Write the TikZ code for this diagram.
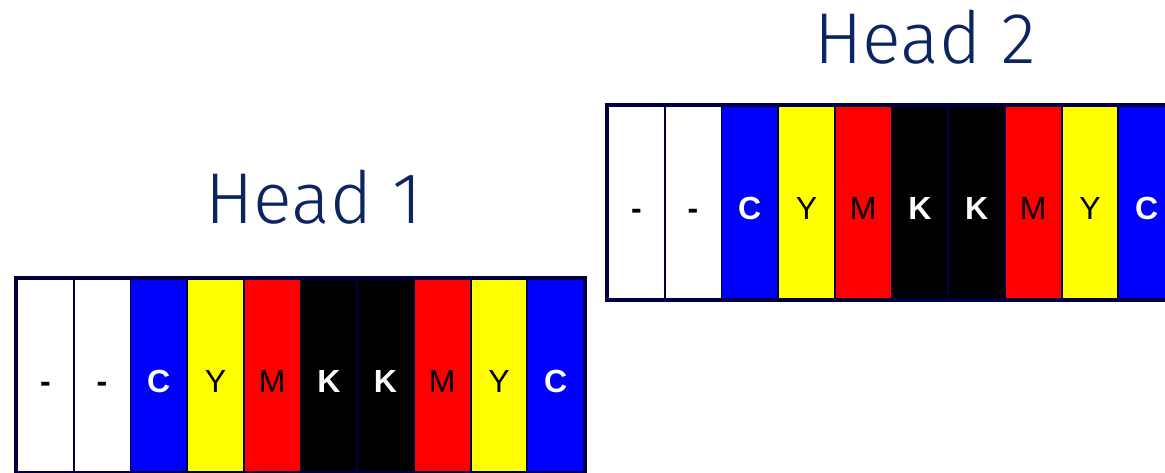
\documentclass[tikz,border=0pt]{standalone}
\usepackage{fontspec}
\setmainfont{Liberation Sans}
\newfontfamily\headfont{Fira Sans Light}
\usetikzlibrary{positioning}

\definecolor{headnavy}{RGB}{12,36,97}
\definecolor{rimnavy}{RGB}{0,0,64}
\definecolor{inkblue}{RGB}{0,0,255}
\definecolor{inkyellow}{RGB}{255,255,0}
\definecolor{inkred}{RGB}{255,0,0}

\tikzset{
  stripe/.style={draw=rimnavy, line width=1.8pt, minimum width=56.7pt, minimum height=193pt, inner sep=0pt,
    text height=34pt, text depth=0pt, font=\fontsize{32}{32}\selectfont},
  frame/.style={draw=rimnavy, line width=3.5pt},
  headlabel/.style={anchor=base, text=headnavy, font=\headfont\fontsize{72}{80}\selectfont}
}

\begin{document}
\begin{tikzpicture}[x=1pt, y=-1pt]
        \clip (0,0) rectangle (1165,472);

        % the two heads
        \foreach \h/\x/\y in {1/17/279, 2/608/106} {
                \foreach \i/\col/\ink/\lab in {1/white/black/{\bfseries -}, 2/white/black/{\bfseries -},
                        3/inkblue/white/{\bfseries C}, 4/inkyellow/black/Y, 5/inkred/black/M,
                        6/black/white/{\bfseries K}, 7/black/white/{\bfseries K}, 8/inkred/black/M,
                        9/inkyellow/black/Y, 10/inkblue/white/{\bfseries C}} {
                        \node [stripe, fill=\col, text=\ink] (h\h s\i) at ({\x+56.7*(\i-0.5)}, {\y+96.5}) {\lab};
                }
                \draw [frame] (h\h s1.north west) rectangle (h\h s10.south east);
        }

        \node [headlabel] (head1) at (314,223) {Head 1};
        \node [headlabel] (head2) at (925,63) {Head 2};
\end{tikzpicture}
\end{document}
